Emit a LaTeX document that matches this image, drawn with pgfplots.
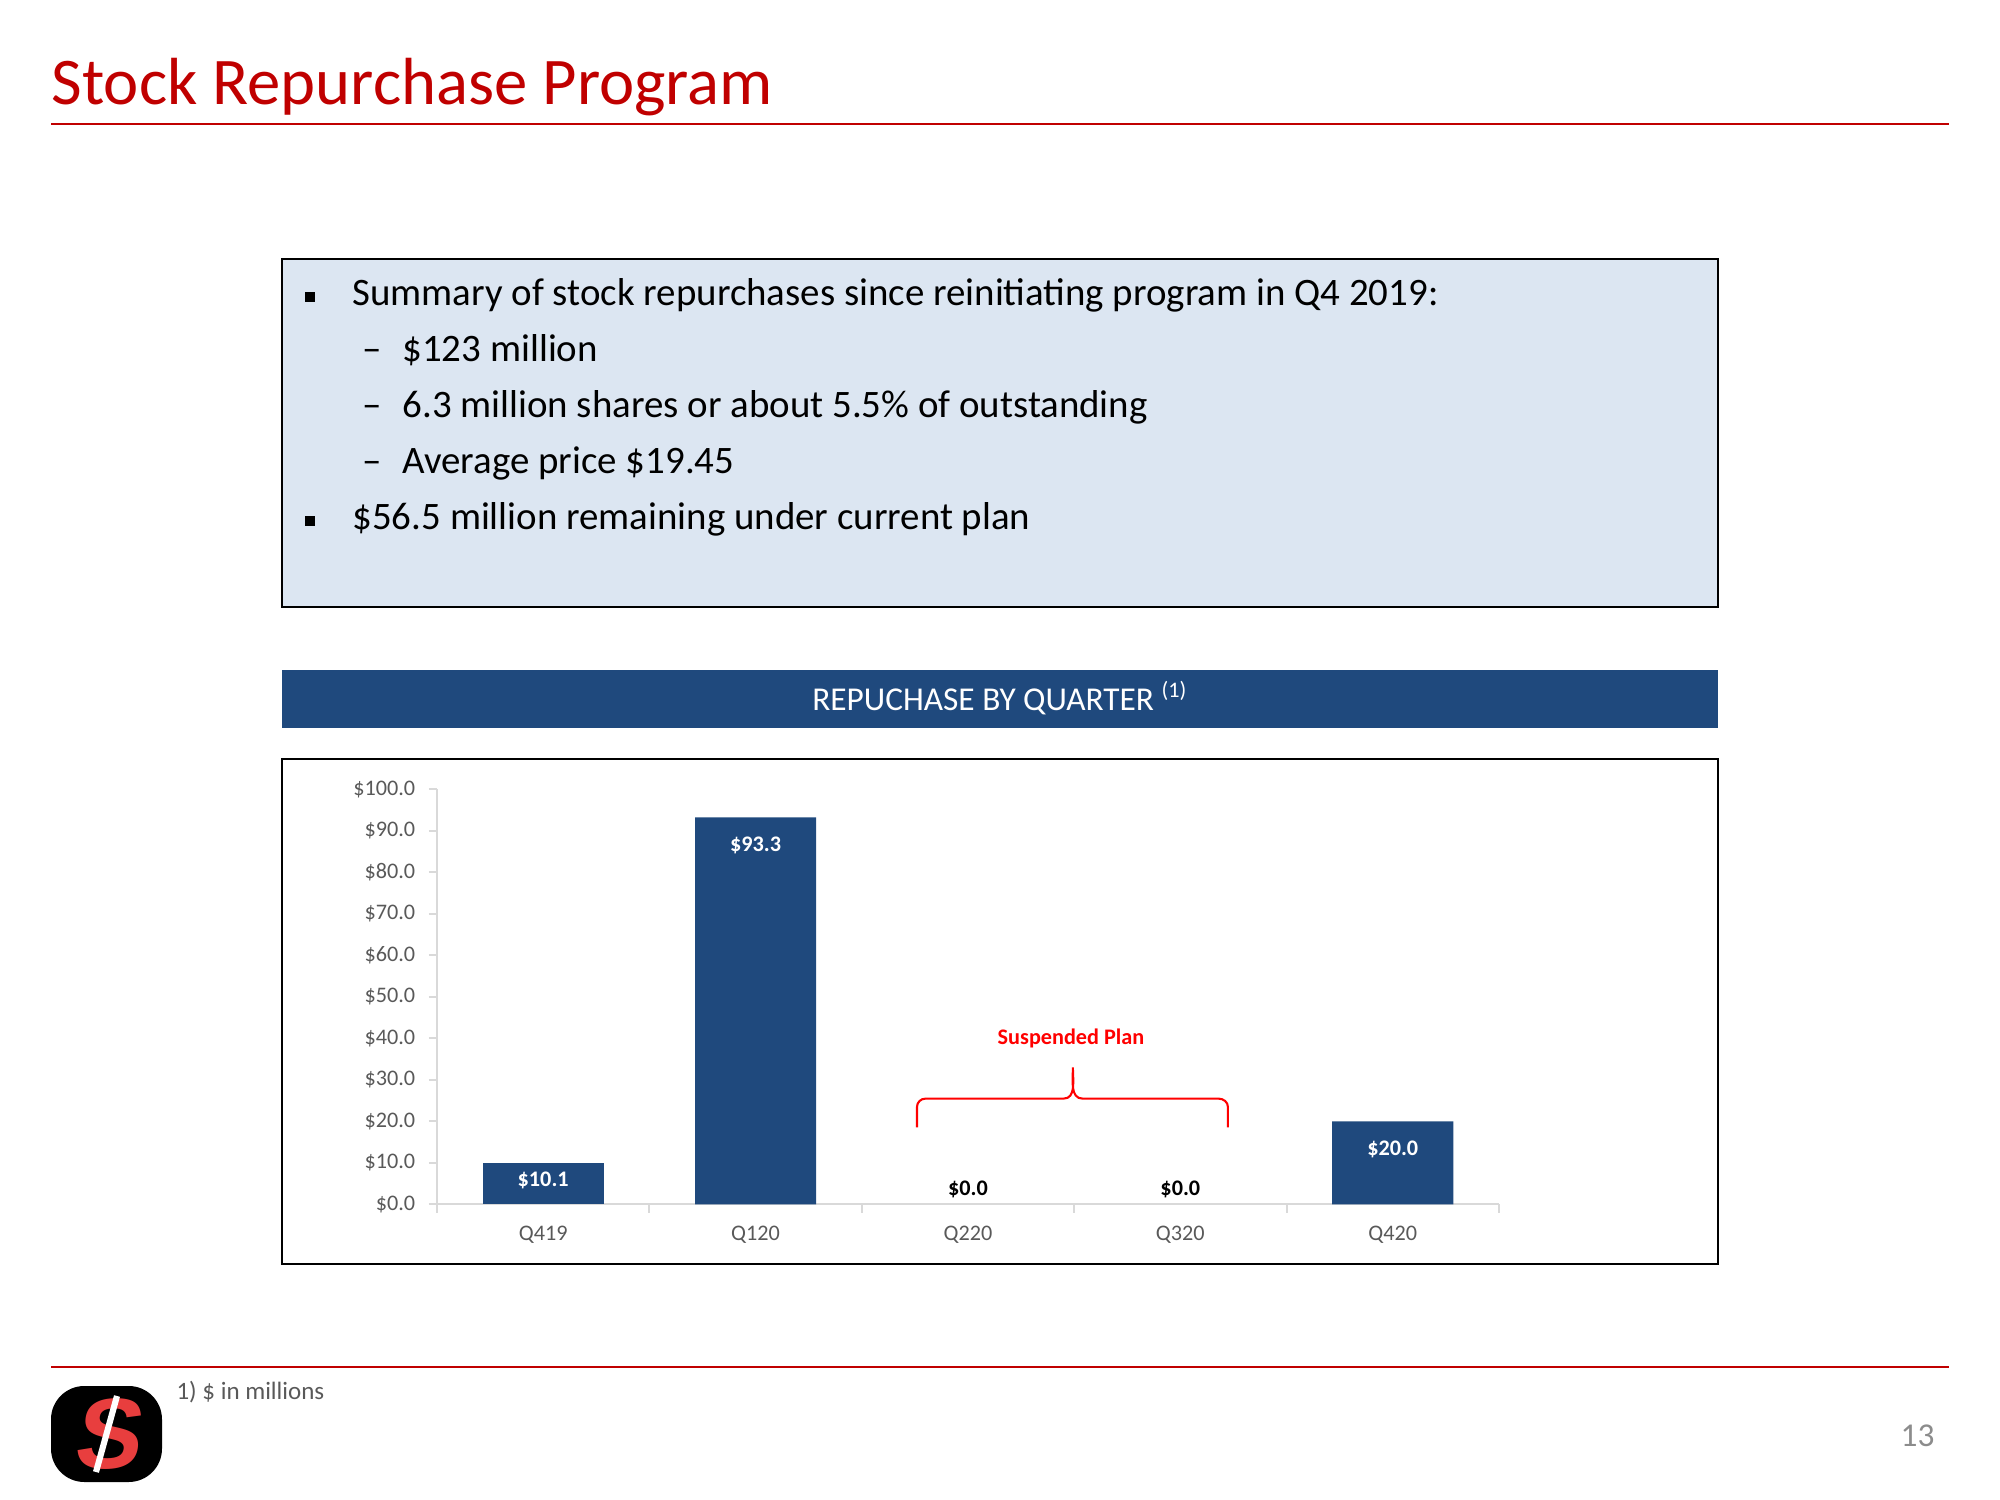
\documentclass[border=0pt]{standalone}
\usepackage{fontspec}
\setmainfont{Carlito}
\newfontfamily\logofont[FakeSlant=0.15]{Liberation Sans}
\usepackage{pgfplots}
\pgfplotsset{compat=1.18}
\definecolor{titlered}{RGB}{192,0,0}
\definecolor{navy}{RGB}{31,73,125}
\definecolor{boxblue}{RGB}{220,230,242}
\definecolor{txtgray}{RGB}{89,89,89}
\definecolor{axgray}{RGB}{217,217,217}
\definecolor{brightred}{RGB}{255,0,0}
\definecolor{logored}{RGB}{232,62,62}
\begin{document}
\begin{tikzpicture}
\path[use as bounding box] (0,0) rectangle (720pt,-540pt);
\begin{scope}[x=0.36pt,y=-0.36pt]
% title
\node[anchor=base west, inner sep=0, text=titlered, font=\fontsize{24}{28}\selectfont] at (51,105) {Stock Repurchase Program};
\draw[titlered, line width=1pt] (51,124) -- (1949,124);
% summary box
\draw[fill=boxblue, draw=black, line width=0.6pt] (282,259) rectangle (1718,607);
\begin{scope}[every node/.style={anchor=base west, inner sep=0, font=\fontsize{14}{16}\selectfont}]
\fill (305,292) rectangle (315,302);
\node at (352,306) {Summary of stock repurchases since reinitiating program in Q4 2019:};
\node at (362,362) {–}; \node at (402,362) {\$123 million};
\node at (362,418) {–}; \node at (402,418) {6.3 million shares or about 5.5\% of outstanding};
\node at (362,474) {–}; \node at (402,474) {Average price \$19.45};
\fill (305,516) rectangle (315,526);
\node at (352,530) {\$56.5 million remaining under current plan};
\end{scope}
% header bar
\fill[navy] (282,670) rectangle (1718,728);
\node[anchor=base, inner sep=0, text=white, font=\fontsize{12}{14}\selectfont] at (1000,710) {REPUCHASE BY QUARTER \textsuperscript{(1)}};
% chart frame
\draw[line width=0.8pt] (282,759) rectangle (1718,1264);
% footer
\draw[titlered, line width=1pt] (51,1367) -- (1949,1367);
\node[anchor=base west, inner sep=0, text=txtgray, font=\fontsize{9}{11}\selectfont] at (176,1399) {1) \$ in millions};
\node[anchor=base east, inner sep=0, text=black!45, font=\fontsize{12}{14}\selectfont] at (1935,1446) {13};
% logo
\fill[black, rounded corners=12pt] (51,1386) rectangle (162,1482);
\node[text=logored, font=\logofont\bfseries\fontsize{36}{36}\selectfont, inner sep=0] at (106,1434) {S};
\draw[white, line width=2.2pt] (96,1472) -- (117,1396);
\end{scope}
\begin{axis}[
  at={(157.32pt,-433.6pt)}, anchor=south west,
  scale only axis, width=382.3pt, height=149.4pt,
  xmin=-0.5, xmax=4.5, ymin=0, ymax=100,
  axis x line*=bottom, axis y line*=left,
  axis line style={axgray, line width=0.75pt, -},
  clip=false,
  /pgf/number format/assume math mode=true,
  tick align=outside,
  major tick length=2.9pt, minor tick length=2.9pt,
  tick style={axgray, line width=0.75pt},
  major x tick style={draw=none},
  xtick={0,1,2,3,4},
  xticklabels={Q419,Q120,Q220,Q320,Q420},
  minor xtick={-0.5,0.5,1.5,2.5,3.5,4.5},
  ytick={0,10,20,30,40,50,60,70,80,90,100},
  yticklabels={\$0.0,\$10.0,\$20.0,\$30.0,\$40.0,\$50.0,\$60.0,\$70.0,\$80.0,\$90.0,\$100.0},
  ticklabel style={font=\fontsize{8}{9}\selectfont, text=txtgray},
  xticklabel style={yshift=-1.4pt},
  yticklabel style={xshift=-1.4pt},
]
\addplot[ybar, bar width=43.6pt, bar shift=0pt, fill=navy, draw=none,
  point meta=y,
  nodes near coords={\$\pgfmathprintnumber[fixed,fixed zerofill,precision=1]{\pgfplotspointmeta}},
  nodes near coords style={text=white, font=\bfseries\fontsize{8}{9}\selectfont, anchor=center, yshift=-10pt}]
  coordinates {(1,93.3) (4,20.0)};
\addplot[ybar, bar width=43.6pt, bar shift=0pt, fill=navy, draw=none,
  point meta=y,
  nodes near coords={\$\pgfmathprintnumber[fixed,fixed zerofill,precision=1]{\pgfplotspointmeta}},
  nodes near coords style={text=white, font=\bfseries\fontsize{8}{9}\selectfont, anchor=center, yshift=-6.6pt}]
  coordinates {(0,10.1)};
\addplot[ybar, bar width=43.6pt, bar shift=0pt, fill=none, draw=none,
  point meta=y,
  nodes near coords={\$\pgfmathprintnumber[fixed,fixed zerofill,precision=1]{\pgfplotspointmeta}},
  nodes near coords style={text=black, font=\bfseries\fontsize{8}{9}\selectfont, anchor=center, yshift=5.6pt}]
  coordinates {(2,0) (3,0)};
\draw[brightred, line width=0.75pt] (axis cs:1.76,18.6) -- (axis cs:1.76,23.5) to[out=90,in=180] (axis cs:1.80,25.5) -- (axis cs:2.45,25.5) to[out=0,in=-90] (axis cs:2.494,33) to[out=-90,in=180] (axis cs:2.54,25.5) -- (axis cs:3.18,25.5) to[out=0,in=90] (axis cs:3.224,23.5) -- (axis cs:3.224,18.6);
\node[text=brightred, font=\bfseries\fontsize{8}{9}\selectfont] at (axis cs:2.485,40) {Suspended Plan};
\end{axis}
\end{tikzpicture}
\end{document}
